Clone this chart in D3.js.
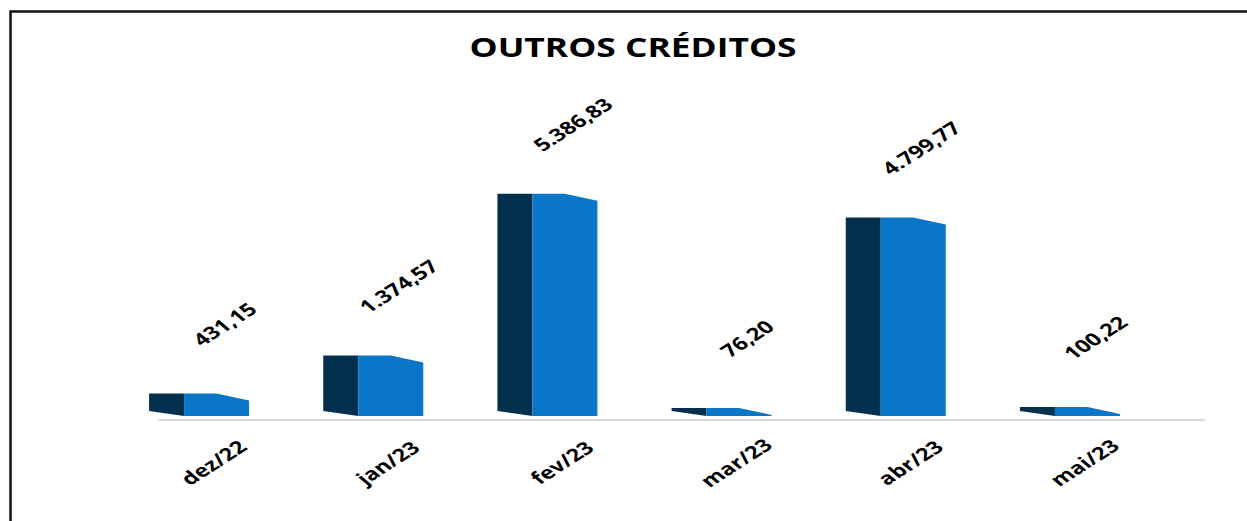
<!DOCTYPE html>
<html><head><meta charset="utf-8">
<script src="https://cdn.jsdelivr.net/npm/d3@7"></script>
<style>body{margin:0;background:#fff}svg{display:block}</style>
</head><body>
<svg id="c" width="1247" height="521"></svg>
<script>
const categories = ["dez/22","jan/23","fev/23","mar/23","abr/23","mai/23"];
const values = [431.15, 1374.57, 5386.83, 76.20, 4799.77, 100.22];
const valueLabels = ["431,15","1.374,57","5.386,83","76,20","4.799,77","100,22"];
const title = "OUTROS CRÉDITOS";

const svg = d3.select("#c");
const font = "'Open Sans', 'Liberation Sans', sans-serif";
const stretch = 1.36;

// frame (top and left border)
svg.append("path").attr("d","M10.5,521 L10.5,11.5 L1247,11.5")
  .attr("fill","none").attr("stroke","#111").attr("stroke-width",2.5);

svg.append("text").attr("transform",`translate(633,57) scale(${stretch},1)`).attr("text-anchor","middle")
  .attr("font-family",font).attr("font-weight",700).attr("font-size",26)
  .attr("fill","#000").text(title);

const x = d3.scaleBand().domain(categories).range([112,1157]).paddingInner(0).paddingOuter(0);
const y = d3.scaleLinear().domain([0,6000]).range([411,169]);

const baseFront = 416;
const sideW = 35, frontW = 65;

// axis line
svg.append("line").attr("x1",x.range()[0]+46).attr("x2",x.range()[1]+48)
  .attr("y1",420).attr("y2",420).attr("stroke","#d9d9d9").attr("stroke-width",2);

const g = svg.append("g");
categories.forEach((c,i)=>{
  const cx = x(c) + x.bandwidth()/2;
  const xs = cx - (sideW+frontW)/2;
  const xf = xs + sideW;
  const top = y(values[i]);
  // side face
  g.append("path").attr("d",`M${xs},${top} L${xf},${top} L${xf},${baseFront} L${xs},${Math.max(top,baseFront-5)} Z`)
    .attr("fill","#03304f");
  // front face with slanted top-right bevel
  const slopeY = Math.min(top+7, baseFront);
  g.append("path").attr("d",`M${xf},${top} L${xf+frontW*0.5},${top} L${xf+frontW},${slopeY} L${xf+frontW},${baseFront} L${xf},${baseFront} Z`)
    .attr("fill","#0a76c8");
  // value label
  g.append("text").attr("transform",`translate(${cx+27},${top-68}) scale(${stretch},1) rotate(-41)`)
    .attr("text-anchor","middle").attr("dominant-baseline","middle")
    .attr("font-family",font).attr("font-weight",700).attr("font-size",17.5)
    .attr("fill","#000").text(valueLabels[i]);
  // category label
  g.append("text").attr("transform",`translate(${cx+16},${464}) scale(${stretch},1) rotate(-41)`)
    .attr("text-anchor","middle").attr("dominant-baseline","middle")
    .attr("font-family",font).attr("font-weight",700).attr("font-size",17.5)
    .attr("fill","#000").text(c);
});
</script>
</body></html>
